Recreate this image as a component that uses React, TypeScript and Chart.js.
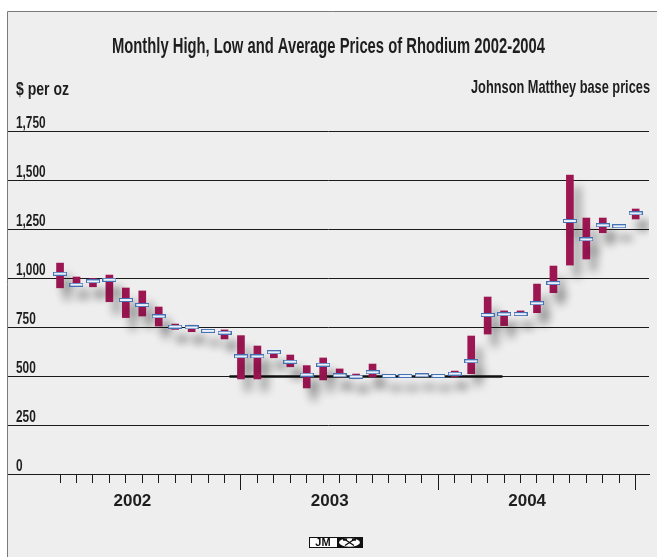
import React, { useEffect, useRef } from "react";
import { Chart, registerables } from "chart.js";

Chart.register(...registerables);

// ---------- DATA ----------
const MONTHS = [
  "Jan 2002", "Feb 2002", "Mar 2002", "Apr 2002", "May 2002", "Jun 2002",
  "Jul 2002", "Aug 2002", "Sep 2002", "Oct 2002", "Nov 2002", "Dec 2002",
  "Jan 2003", "Feb 2003", "Mar 2003", "Apr 2003", "May 2003", "Jun 2003",
  "Jul 2003", "Aug 2003", "Sep 2003", "Oct 2003", "Nov 2003", "Dec 2003",
  "Jan 2004", "Feb 2004", "Mar 2004", "Apr 2004", "May 2004", "Jun 2004",
  "Jul 2004", "Aug 2004", "Sep 2004", "Oct 2004", "Nov 2004", "Dec 2004",
];

const HIGHS = [
  1076, 1005, 998, 1015, 949, 934, 852, 765, 759, 735, 735, 706,
  653, 625, 607, 553, 592, 536, 510, 561, 505, 505, 508, 505,
  525, 704, 903, 832, 832, 969, 1061, 1525, 1306, 1306, 1270, 1352,
];

const LOWS = [
  950, 968, 955, 879, 798, 806, 755, 738, 726, 725, 689, 485,
  485, 593, 547, 439, 480, 496, 486, 496, 495, 495, 498, 495,
  497, 512, 714, 757, 810, 823, 925, 1066, 1097, 1231, 1258, 1301,
];

const AVERAGES = [
  1022, 966, 983, 991, 888, 862, 804, 752, 748, 730, 721, 600,
  600, 621, 573, 507, 558, 503, 497, 519, 500, 500, 503, 500,
  512, 575, 811, 815, 816, 871, 974, 1291, 1197, 1269, 1264, 1330,
];

const YEARS = ["2002", "2003", "2004"];
const Y_TICKS = [0, 250, 500, 750, 1000, 1250, 1500, 1750];
// base-price floor line (month index, $/oz)
const FLOOR_LINE = [
  { x: 10.3, y: 497 },
  { x: 26.9, y: 497 },
];

const TITLE = "Monthly High, Low and Average Prices of Rhodium 2002-2004";
const UNIT_LABEL = "$ per oz";
const SOURCE_LABEL = "Johnson Matthey base prices";

// ---------- STYLE ----------
const SANS = "'Liberation Sans', Arial, sans-serif";
const TEXT = "#1e1e1e";
const BAR_COLOR = "#9c1652";
const NARROW_X = 0.74;

function fmt(v: number) {
  return v.toLocaleString("en-US");
}

function drawNarrow(
  ctx: CanvasRenderingContext2D,
  text: string,
  x: number,
  y: number,
  sx: number,
  align: CanvasTextAlign
) {
  ctx.save();
  ctx.translate(x, y);
  ctx.scale(sx, 1);
  ctx.textAlign = align;
  ctx.fillText(text, 0, 0);
  ctx.restore();
}

function drawFitted(ctx: CanvasRenderingContext2D, text: string, x: number, y: number, w: number, align: CanvasTextAlign) {
  const m = ctx.measureText(text).width;
  drawNarrow(ctx, text, x, y, w / m, align);
}

const decorPlugin = {
  id: "decor",
  beforeDraw(chart: any) {
    const { ctx, width, height } = chart;
    ctx.save();
    ctx.fillStyle = "#ffffff";
    ctx.fillRect(0, 0, width, height);
    ctx.fillStyle = "#eeeeee";
    ctx.fillRect(8, 12, width - 8, height - 12);
    ctx.strokeStyle = "#7a7a7a";
    ctx.lineWidth = 1;
    ctx.beginPath();
    ctx.moveTo(7.5, 11.5);
    ctx.lineTo(7.5, height);
    ctx.moveTo(7.5, 11.5);
    ctx.lineTo(width, 11.5);
    ctx.stroke();
    ctx.restore();
  },
  beforeDatasetDraw(chart: any, args: any) {
    const ds = chart.data.datasets[args.index];
    if (ds.shadow) {
      const ctx = chart.ctx;
      ctx.save();
      ctx.shadowColor = "rgba(0,0,0,0.32)";
      ctx.shadowBlur = 9;
      ctx.shadowOffsetX = 7;
      ctx.shadowOffsetY = 12;
    }
  },
  afterDatasetDraw(chart: any, args: any) {
    const ds = chart.data.datasets[args.index];
    if (ds.shadow) chart.ctx.restore();
  },
  afterDraw(chart: any) {
    const { ctx, width } = chart;
    ctx.save();
    ctx.fillStyle = TEXT;
    ctx.textBaseline = "middle";
    ctx.font = `bold 22px ${SANS}`;
    drawFitted(ctx, TITLE, width / 2, 47, 433, "center");
    ctx.font = `bold 19px ${SANS}`;
    drawFitted(ctx, UNIT_LABEL, 16, 90, 53, "left");
    drawFitted(ctx, SOURCE_LABEL, 650, 88, 179, "right");

    // y tick labels, placed from the y scale, above each grid line
    const ys = chart.scales.y;
    ctx.font = `bold 16px ${SANS}`;
    ctx.textBaseline = "alphabetic";
    ys.ticks.forEach((t: any) => {
      const py = ys.getPixelForValue(t.value);
      drawNarrow(ctx, fmt(t.value), ys.right + 8, py - 3, NARROW_X, "left");
    });

    // JM logo
    const lx = 309, ly = 537, lw = 53, lh = 10;
    ctx.fillStyle = "#ffffff";
    ctx.fillRect(lx, ly, 28, lh);
    ctx.fillStyle = "#111";
    ctx.fillRect(lx + 28, ly, lw - 28, lh);
    ctx.strokeStyle = "#111";
    ctx.lineWidth = 1;
    ctx.strokeRect(lx + 0.5, ly + 0.5, lw, lh);
    ctx.fillStyle = "#111";
    ctx.font = `bold 11px ${SANS}`;
    ctx.textAlign = "center";
    ctx.textBaseline = "middle";
    ctx.fillText("JM", lx + 14, ly + lh / 2 + 1);
    ctx.fillStyle = "#ffffff";
    ctx.beginPath();
    ctx.ellipse(lx + 40.5, ly + 5.5, 10.5, 4.2, 0, 0, Math.PI * 2);
    ctx.fill();
    ctx.strokeStyle = "#111";
    ctx.lineWidth = 1.4;
    ctx.beginPath();
    ctx.moveTo(lx + 36, ly + 2.5);
    ctx.lineTo(lx + 45, ly + 8.5);
    ctx.moveTo(lx + 45, ly + 2.5);
    ctx.lineTo(lx + 36, ly + 8.5);
    ctx.stroke();
    ctx.fillStyle = "#111";
    ctx.fillRect(lx + 34, ly + 1.5, 4, 2.2);
    ctx.fillRect(lx + 43, ly + 1.5, 4, 2.2);
    ctx.restore();
  },
};

function makeMarker() {
  const c = document.createElement("canvas");
  c.width = 14;
  c.height = 4;
  const g = c.getContext("2d")!;
  g.fillStyle = "#eaf1fb";
  g.fillRect(0, 0, 14, 4);
  g.strokeStyle = "#4470b4";
  g.lineWidth = 1;
  g.strokeRect(0.5, 0.5, 13, 3);
  return c;
}

const X_MIN = -3.165;
const X_MAX = 35.81;

export default function App() {
  const ref = useRef<HTMLCanvasElement | null>(null);

  useEffect(() => {
    if (!ref.current) return;
    const marker = makeMarker();
    const chart = new Chart(ref.current, {
      type: "bar",
      data: {
        datasets: [
          {
            type: "line",
            data: FLOOR_LINE,
            borderColor: "#111111",
            borderWidth: 2.5,
            pointRadius: 0,
            order: 3,
          } as any,
          {
            type: "bar",
            data: MONTHS.map((_, i) => ({ x: i, y: [LOWS[i], HIGHS[i]] })),
            backgroundColor: BAR_COLOR,
            borderWidth: 0,
            barThickness: 7,
            order: 2,
            shadow: true,
          } as any,
          {
            type: "line",
            data: MONTHS.map((_, i) => ({ x: i, y: AVERAGES[i] })),
            showLine: false,
            pointStyle: marker,
            pointRadius: 7,
            order: 1,
            shadow: true,
          } as any,
        ],
      },
      options: {
        responsive: false,
        animation: false,
        events: [],
        layout: { padding: { top: 131, left: 8, right: 0, bottom: 37 } },
        plugins: {
          legend: { display: false },
          tooltip: { enabled: false },
          title: { display: false },
        },
        scales: {
          x: {
            type: "linear",
            position: "bottom",
            min: X_MIN,
            max: X_MAX,
            offset: false,
            weight: 0,
            afterBuildTicks: (s: any) => {
              s.ticks = MONTHS.map((_, i) => ({ value: i }));
            },
            afterFit: (s: any) => {
              s.height = 16;
            },
            grid: {
              display: true,
              offset: false,
              drawOnChartArea: false,
              drawTicks: true,
              tickLength: 16,
              tickColor: "#1a1a1a",
              tickWidth: 1,
              tickBorderDash: (c: any) => (c.index % 12 === 11 ? [] : [8, 40]),
            },
            border: { display: true, color: "#1a1a1a", width: 1 },
            ticks: { display: false },
          },
          xYear: {
            type: "linear",
            position: "bottom",
            min: X_MIN,
            max: X_MAX,
            offset: false,
            weight: 1,
            afterBuildTicks: (s: any) => {
              s.ticks = YEARS.map((_, k) => ({ value: 4.4 + 12 * k }));
            },
            afterFit: (s: any) => {
              s.height = 30;
            },
            grid: { display: false, drawTicks: false },
            border: { display: false },
            ticks: {
              padding: 1,
              color: TEXT,
              font: { family: SANS, size: 17, weight: "bold" },
              callback: (_v: any, k: number) => YEARS[k],
            },
          },
          y: {
            type: "linear",
            position: "left",
            min: 0,
            max: 1750,
            afterBuildTicks: (s: any) => {
              s.ticks = Y_TICKS.map((v) => ({ value: v }));
            },
            afterFit: (s: any) => {
              s.width = 0;
            },
            grid: { color: "#1a1a1a", lineWidth: 1, drawTicks: false },
            border: { display: false },
            ticks: { display: false },
          },
        },
      } as any,
      plugins: [decorPlugin],
    });
    return () => chart.destroy();
  }, []);

  return (
    <div style={{ position: "fixed", left: 0, top: 0 }}>
      <canvas ref={ref} width={657} height={557} style={{ display: "block" }} />
    </div>
  );
}
